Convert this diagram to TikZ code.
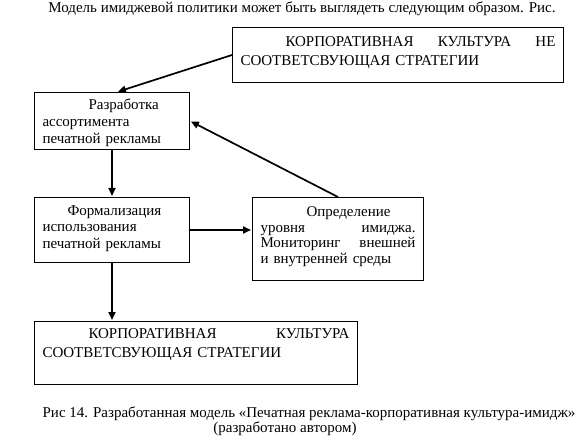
\documentclass[tikz,border=0pt]{standalone}
\usepackage{fontspec}
\setmainfont{Liberation Serif}
\usetikzlibrary{arrows.meta}

\begin{document}
\begin{tikzpicture}[x=1pt, y=-1pt, >={Triangle[length=8pt, width=7pt]},
  blok/.style={draw, line width=1pt, anchor=north west, inner xsep=8pt, inner ysep=0pt,
    align=left, font=\fontsize{15}{17}\selectfont},
  strelka/.style={->, line width=1.7pt, shorten >=1pt},
  podpis/.style={inner sep=0pt, font=\fontsize{15}{17}\selectfont}]
  \useasboundingbox[fill=white] (0,0) rectangle (576,441);
  % заголовок
  \node[podpis] (zag) at (302,9) {Модель имиджевой политики может быть выглядеть следующим образом. Рис.};
  % блоки
  \node[blok, text width=315pt, text height=19.5pt, text depth=35.5pt,
    font=\fontsize{15}{19}\selectfont] (kne) at (232,27)
    {\hspace*{45pt}КОРПОРАТИВНАЯ \hfill КУЛЬТУРА \hfill НЕ\\ СООТВЕТСВУЮЩАЯ СТРАТЕГИИ};
  \node[blok, text width=139pt, text height=17pt, text depth=40pt] (razr) at (34,92)
    {\hspace*{46pt}Разработка\\ ассортимента\\ печатной рекламы};
  \node[blok, text width=139pt, text height=18pt, text depth=47pt,
    font=\fontsize{15}{16.5}\selectfont] (form) at (34,197)
    {\hspace*{25pt}Формализация\\ использования\\ печатной рекламы};
  \node[blok, text width=155pt, text height=19pt, text depth=64pt,
    font=\fontsize{15}{15.7}\selectfont] (opr) at (252,197)
    {\hspace*{46pt}Определение\\ уровня \hfill имиджа.\\ Мониторинг \hfill внешней\\ и внутренней среды};
  \node[blok, text width=307pt, text height=17pt, text depth=46pt,
    font=\fontsize{15}{19}\selectfont] (ksoot) at (34,321)
    {\hspace*{46pt}КОРПОРАТИВНАЯ \hfill КУЛЬТУРА\\ СООТВЕТСВУЮЩАЯ СТРАТЕГИИ};
  % стрелки
  \draw[strelka] (kne.west) -- ([xshift=5pt]razr.north);
  \draw[strelka] (razr.south) -- (form.north);
  \draw[strelka] (form.east) -- (form.east -| opr.west);
  \draw[strelka] (opr.north) -- (razr.east);
  \draw[strelka] (form.south) -- (form.south |- ksoot.north);
  % подпись
  \node[podpis] (ris) at (309,414) {Рис 14. Разработанная модель «Печатная реклама-корпоративная культура-имидж»};
  \node[podpis] (avt) at (285,429) {(разработано автором)};
\end{tikzpicture}
\end{document}
